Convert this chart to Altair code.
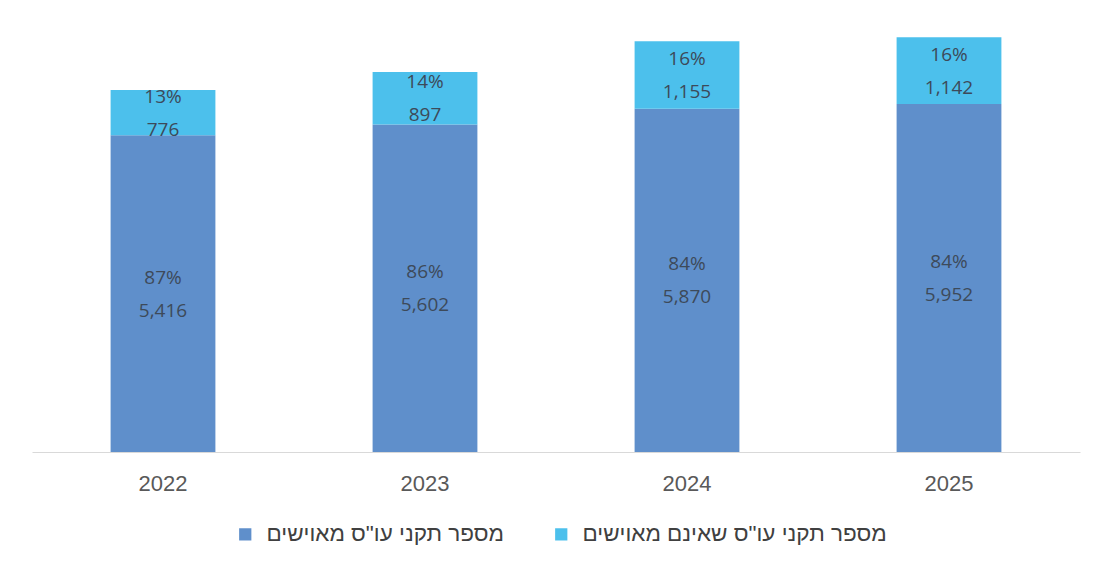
import altair as alt
import pandas as pd

years = ["2022", "2023", "2024", "2025"]
staffed = [5416, 5602, 5870, 5952]
unstaffed = [776, 897, 1155, 1142]
staffed_pct = ["87%", "86%", "84%", "84%"]
unstaffed_pct = ["13%", "14%", "16%", "16%"]
series = ["מספר תקני עו\"ס מאוישים", "מספר תקני עו\"ס שאינם מאוישים"]
colors = ["#5f8fcb", "#4cc0ec"]

rows = []
for i, y in enumerate(years):
    rows.append({"year": y, "series": series[0], "value": staffed[i], "pct": staffed_pct[i], "ord": 0})
    rows.append({"year": y, "series": series[1], "value": unstaffed[i], "pct": unstaffed_pct[i], "ord": 1})
df = pd.DataFrame(rows)

FONT = "Open Sans"
AXFONT = "Liberation Sans"

base = alt.Chart(df).transform_stack(
    stack="value", groupby=["year"], as_=["y0", "y1"], sort=[alt.SortField("ord", order="ascending")]
).transform_calculate(
    mid="(datum.y0 + datum.y1) / 2",
    label="format(datum.value, ',')"
)

x = alt.X("year:N", title=None, sort=years,
          scale=alt.Scale(paddingInner=0.6, paddingOuter=0.3),
          axis=alt.Axis(labelAngle=0, ticks=False, domainColor="#d9d9d9", domainWidth=1.2,
                        labelFontSize=22, labelColor="#595959", labelPadding=21, labelFont=AXFONT))
yscale = alt.Scale(domain=[0, 7492], nice=False)

bars = base.mark_bar().encode(
    x=x,
    y=alt.Y("y0:Q", scale=yscale, axis=None),
    y2="y1:Q",
    color=alt.Color("series:N", sort=series,
                    scale=alt.Scale(domain=series, range=colors),
                    legend=alt.Legend(title=None, orient="none", direction="horizontal",
                                      legendX=202, legendY=509,
                                      symbolType="square", symbolSize=150, symbolStrokeWidth=0,
                                      labelFontSize=22.5, labelColor="#404040", labelFont=AXFONT,
                                      columnPadding=46, symbolOffset=0, labelOffset=10,
                                      labelLimit=500)),
)

pct_text = base.mark_text(fontSize=19, color="#3d4a5a", dy=-16, font=FONT).encode(
    x=alt.X("year:N", sort=years), y=alt.Y("mid:Q", scale=yscale), text="pct:N"
)
val_text = base.mark_text(fontSize=19, color="#3d4a5a", dy=17, font=FONT).encode(
    x=alt.X("year:N", sort=years), y=alt.Y("mid:Q", scale=yscale), text="label:N"
)

chart = alt.layer(bars, pct_text, val_text).properties(
    width=1048, height=438,
    background="white",
    padding={"left": 24, "top": 6, "right": 5, "bottom": 5}
).configure_view(strokeWidth=0, stroke=None)

chart.save("out.html", embed_options={"renderer": "svg", "actions": False})
